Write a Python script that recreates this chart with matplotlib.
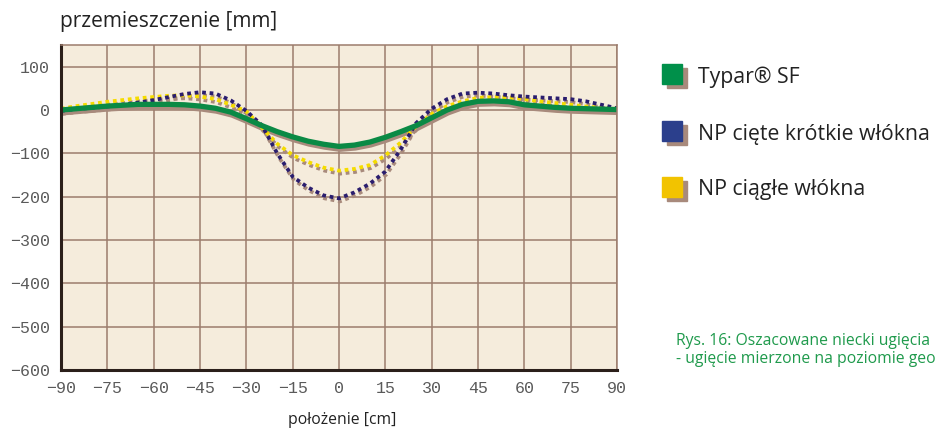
import matplotlib.pyplot as plt
import matplotlib.transforms as mtransforms
from matplotlib.patches import Rectangle

# polozenie [cm]
x = [-90, -85, -80, -75, -70, -65, -60, -55, -50, -45, -40, -35, -30, -25, -20, -15, -10, -5,
     0, 5, 10, 15, 20, 25, 30, 35, 40, 45, 50, 55, 60, 65, 70, 75, 80, 85, 90]

# przemieszczenie [mm]
typar = [0, 3, 6, 9, 11, 13, 13, 13, 12, 9, 4, -5, -20, -36, -50, -62, -72, -79,
         -84, -81, -74, -63, -50, -36, -18, 0, 13, 20, 21, 19, 12, 9, 6, 4, 3, 2, 1]
np_ciete = [-2, 2, 5, 8, 12, 17, 23, 30, 37, 41, 38, 22, -2, -35, -100, -154, -179, -197,
            -204, -190, -170, -142, -91, -30, 3, 25, 38, 40, 38, 34, 31, 29, 27, 25, 20, 12, 4]
np_ciagle = [3, 9, 14, 19, 23, 27, 30, 33, 34, 31, 25, 12, -3, -40, -78, -104, -120, -133,
             -140, -136, -127, -105, -75, -37, -9, 9, 20, 28, 30, 29, 25, 20, 16, 12, 8, 5, 3]

xticks = list(range(-90, 91, 15))
yticks = list(range(-600, 101, 100))

labels = ["Typar® SF", "NP cięte krótkie włókna", "NP ciągłe włókna"]
colors = ["#00904a", "#2b3f8c", "#f2c300"]
line_colors = ["#0a8a45", "#2a1d6e", "#f5dc00"]
shadow = "#a88a7c"
grid_c = "#9c7c6c"

fig = plt.figure(figsize=(9.35, 4.29), dpi=100)
ax = fig.add_axes([61 / 935, 1 - 370 / 429, 556 / 935, 325 / 429])
ax.set_facecolor("#f5ecdc")
ax.set_xlim(-90, 90)
ax.set_ylim(-600, 150)

ax.set_xticks(xticks)
ax.set_yticks(yticks)
ax.grid(True, color=grid_c, linewidth=1.1)
ax.set_axisbelow(True)
ax.tick_params(length=0, pad=8, labelsize=12, labelcolor="#5a5a5a")
for lab in ax.get_xticklabels() + ax.get_yticklabels():
    lab.set_family("Liberation Mono")
for s in ["top", "right"]:
    ax.spines[s].set_color(grid_c)
    ax.spines[s].set_linewidth(1.1)
for s in ["left", "bottom"]:
    ax.spines[s].set_color("#2b1f1a")
    ax.spines[s].set_linewidth(2.2)

sh = mtransforms.offset_copy(ax.transData, fig=fig, x=1, y=-3, units="dots")

# shadows first
ax.plot(x, typar, color=shadow, lw=3.6, transform=sh, solid_capstyle="butt")
for ys in [np_ciagle, np_ciete]:
    ax.plot(x, ys, color=shadow, lw=2.7, ls=(0, (1, 1)), transform=sh, dash_capstyle="butt")

ax.plot(x, np_ciagle, color=line_colors[2], lw=2.7, ls=(0, (1, 1)), dash_capstyle="butt")
ax.plot(x, np_ciete, color=line_colors[1], lw=2.7, ls=(0, (1, 1)), dash_capstyle="butt")
ax.plot(x, typar, color=line_colors[0], lw=3.8, solid_capstyle="butt")

fig.text(60 / 935, 1 - 22 / 429, "przemieszczenie [mm]", fontsize=15, family="Open Sans",
         color="#222222", va="center", ha="left")
fig.text(342 / 935, 1 - 420 / 429, "położenie [cm]", fontsize=11.3, family="Open Sans",
         color="#222222", va="center", ha="center")

# legend
ys_leg = [64, 121, 177]
for yy, lab, c in zip(ys_leg, labels, colors):
    fig.patches.append(Rectangle((667 / 935, 1 - (yy + 24) / 429), 20 / 935, 20 / 429,
                                 transform=fig.transFigure, color=shadow))
    fig.patches.append(Rectangle((662 / 935, 1 - (yy + 20) / 429), 20 / 935, 20 / 429,
                                 transform=fig.transFigure, color=c))
    fig.text(698 / 935, 1 - (yy + 13) / 429, lab, fontsize=15.3, family="Open Sans",
             color="#222222", va="center", ha="left")

fig.text(676 / 935, 1 - 341 / 429, "Rys. 16: Oszacowane niecki ugięcia", fontsize=11.3,
         family="Open Sans", color="#1f9a4c", va="center", ha="left")
fig.text(676 / 935, 1 - 359 / 429, "- ugięcie mierzone na poziomie geowłókniny", fontsize=11.3,
         family="Open Sans", color="#1f9a4c", va="center", ha="left")

fig.savefig("out.png", dpi=100)
